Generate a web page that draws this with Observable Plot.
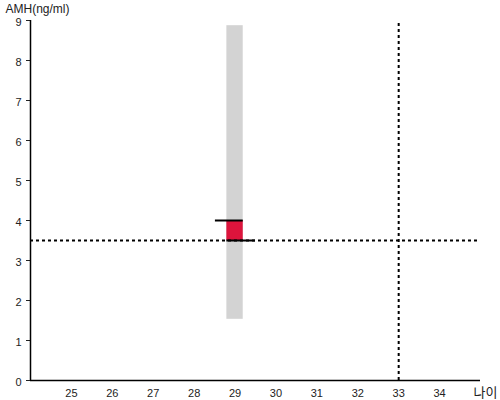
<!DOCTYPE html>
<html><head><meta charset="utf-8">
<script src="https://cdn.jsdelivr.net/npm/d3@7"></script>
<script src="https://cdn.jsdelivr.net/npm/@observablehq/plot@0.6"></script>
<style>body{margin:0;background:#fff;font-family:"Liberation Sans",Arial,sans-serif;}</style>
</head><body><div id="chart"></div>
<script>
const xTicks = [25,26,27,28,29,30,31,32,33,34];
const yTicks = [0,1,2,3,4,5,6,7,8,9];
const rangeBar = [{x1:28.8, x2:29.2, y1:1.53, y2:8.87}];
const valueBar = [{x1:28.8, x2:29.2, y1:3.5, y2:4.0}];
const topTick = [{x1:28.52, x2:29.2, y:4.0}];
const bottomTick = [{x1:28.8, x2:29.5, y:3.5}];
const refY = [3.5];
const refX = [33];

const plot = Plot.plot({
  width: 500, height: 400,
  marginLeft: 30, marginRight: 20, marginTop: 20, marginBottom: 20,
  style: {fontFamily: "Liberation Sans, Arial, sans-serif", fontSize: "11px", color: "#222", background: "#fff"},
  x: {domain: [24, 35]},
  y: {domain: [0, 9]},
  marks: [
    Plot.rect(rangeBar, {x1:"x1", x2:"x2", y1:"y1", y2:"y2", fill:"#d3d3d3"}),
    Plot.rect(valueBar, {x1:"x1", x2:"x2", y1:"y1", y2:"y2", fill:"#dc143c"}),
    Plot.ruleY(topTick, {x1:"x1", x2:"x2", y:"y", stroke:"black", strokeWidth:2}),
    Plot.ruleY(refY, {x1:24, x2:35, stroke:"black", strokeWidth:2, strokeDasharray:"3,3"}),
    Plot.ruleX(refX, {y1:0, y2:9, stroke:"black", strokeWidth:2, strokeDasharray:"3,3"}),
    Plot.ruleY(bottomTick, {x1:"x1", x2:"x2", y:"y", stroke:"black", strokeWidth:2}),
    Plot.axisX(xTicks, {tickSize:0, tickPadding:9, label:null}),
    Plot.axisY(yTicks, {tickSize:4, tickFormat:() => "", label:null}),
    Plot.axisY(yTicks, {tickSize:0, tickPadding:9, dy:2, label:null}),
    Plot.ruleX([24], {y1:0, y2:9, stroke:"black", strokeWidth:1.5}),
    Plot.ruleY([0], {x1:24, x2:35, stroke:"black", strokeWidth:1.5}),
    Plot.text(["AMH(ng/ml)"], {frameAnchor:"top-left", dx:-25, dy:-11, textAnchor:"start", lineAnchor:"middle", fontSize:12, fill:"#222"}),
    Plot.text(["나이"], {frameAnchor:"bottom-right", dx:-7, dy:12, textAnchor:"start", lineAnchor:"middle", fontSize:13, fill:"#222", fontFamily:"Noto Sans CJK KR"})
  ]
});
document.getElementById("chart").appendChild(plot);
</script></body></html>
